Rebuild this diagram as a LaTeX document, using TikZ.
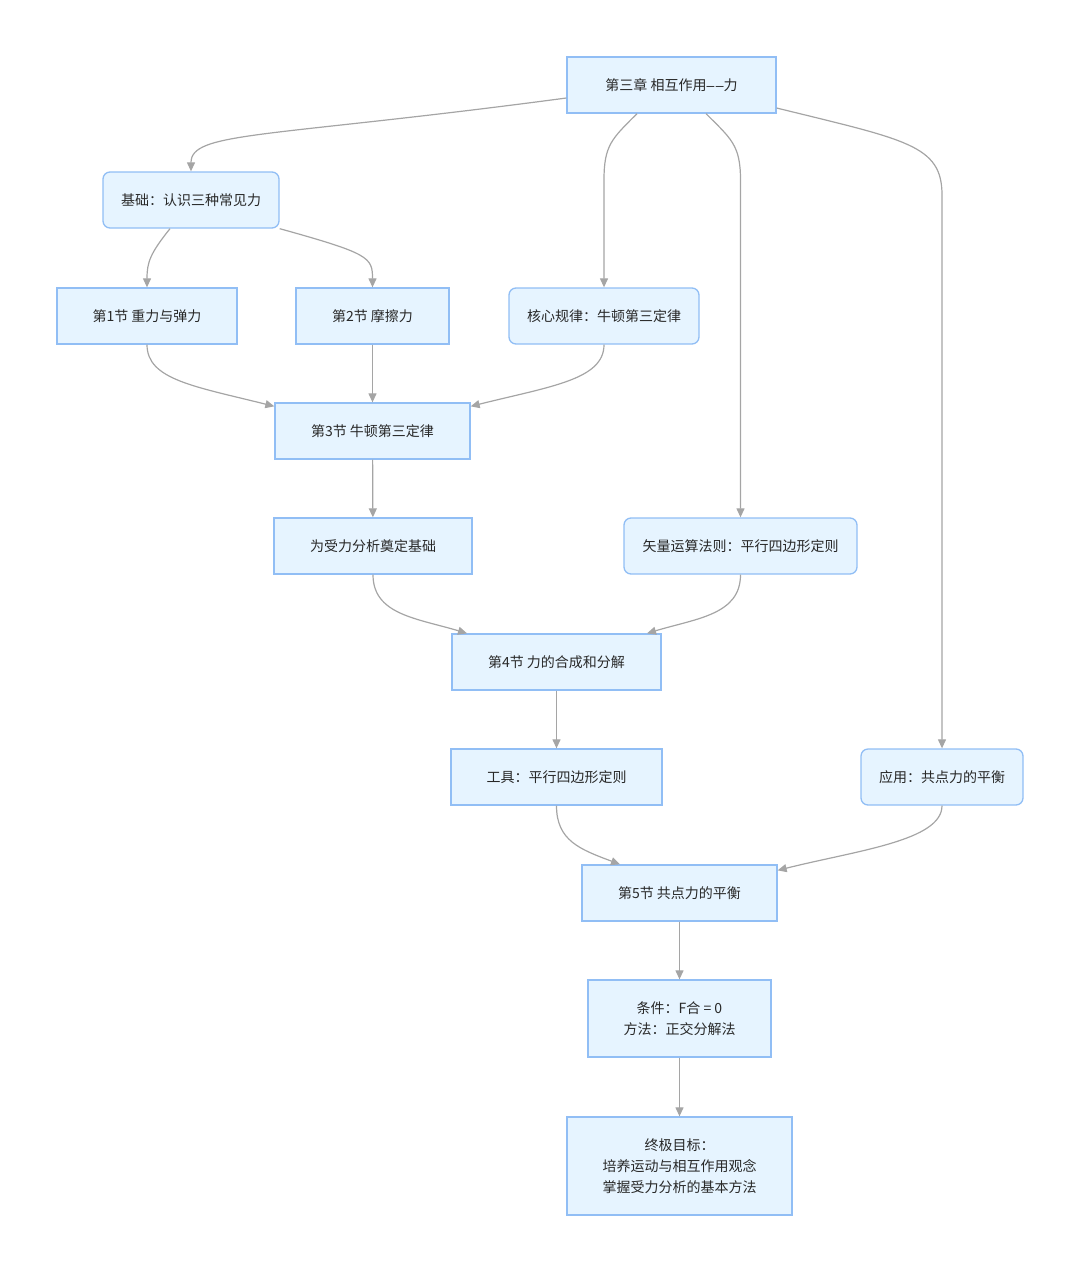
\documentclass[tikz,border=0pt]{standalone}
\usepackage{fontspec}
\setmainfont{Noto Sans CJK SC}
\newfontfamily\dashfont{Liberation Sans}
\usepackage{tikz}
\usetikzlibrary{arrows.meta}
\definecolor{boxfill}{RGB}{230,244,255}
\definecolor{boxline}{RGB}{145,190,245}
\definecolor{linkcol}{RGB}{165,165,165}
\definecolor{txtcol}{RGB}{40,40,40}
\tikzset{
  block/.style ={rectangle, draw=boxline, line width=1.3pt, fill=boxfill,
                 text=txtcol, align=center, minimum height=56pt, inner sep=0pt,
                 font=\fontsize{14}{21}\selectfont},
  soft/.style  ={block, rounded corners=7pt},
  flow/.style  ={-{Triangle[length=9pt,width=8pt]}, draw=linkcol, line width=1.2pt},
}
\begin{document}
\begin{tikzpicture}[x=1pt, y=-1pt]
    \useasboundingbox (0,0) rectangle (1080,1272);
    % chapter and first layer
    \node[block, minimum width=209pt] (ch3) at (671.5,85) {第三章 相互作用{\dashfont –\kern1.5pt–}力};
    \node[soft, minimum width=176pt] (base) at (191,200) {基础：认识三种常见力};
    \node[block, minimum width=180pt] (sec1) at (147,316) {第1节 重力与弹力};
    \node[block, minimum width=153pt] (sec2) at (372.5,316) {第2节 摩擦力};
    \node[soft, minimum width=190pt] (core) at (604,316) {核心规律：牛顿第三定律};
    \node[block, minimum width=195pt] (sec3) at (372.5,431) {第3节 牛顿第三定律};
    \node[block, minimum width=198pt] (found) at (373,546) {为受力分析奠定基础};
    \node[soft, minimum width=233pt] (vec) at (740.5,546) {矢量运算法则：平行四边形定则};
    \node[block, minimum width=209pt] (sec4) at (556.5,662) {第4节 力的合成和分解};
    \node[block, minimum width=211pt] (tool) at (556.5,777) {工具：平行四边形定则};
    \node[soft, minimum width=162pt] (app) at (942,777) {应用：共点力的平衡};
    \node[block, minimum width=195pt] (sec5) at (679.5,893) {第5节 共点力的平衡};
    \node[block, minimum width=183pt, minimum height=77pt] (cond) at (679.5,1018.5)
        {条件：F合 = 0\\方法：正交分解法};
    \node[block, minimum width=225pt, minimum height=98pt] (goal) at (679.5,1166)
        {终极目标：\\培养运动与相互作用观念\\掌握受力分析的基本方法};

    % links
    \draw[flow] ([yshift=-13pt]ch3.west) .. controls +(-300,40) and +(0,-40) .. (base.north);
    \draw[flow] ([xshift=-34.5pt]ch3.south) .. controls +(-25,25) and +(0,-35) .. (core.north |- 0,180) -- (core.north);
    \draw[flow] ([xshift=34.5pt]ch3.south) .. controls +(25,25) and +(0,-35) .. (vec.north |- 0,180) -- (vec.north);
    \draw[flow] ([yshift=-23pt]ch3.east) .. controls +(130,32) and +(0,-50) .. (app.north |- 0,195) -- (app.north);
    \draw[flow] ([xshift=-21pt]base.south) .. controls +(-20,25) and +(0,-25) .. (sec1.north);
    \draw[flow] (base.south east) .. controls +(90,25) and +(0,-30) .. (sec2.north);
    \draw[flow] (sec1.south) .. controls +(0,35) and +(-80,-20) .. ([yshift=-4pt]sec3.north west);
    \draw[flow] (sec2) -- (sec3);
    \draw[flow] (core.south) .. controls +(0,35) and +(80,-20) .. ([yshift=-4pt]sec3.north east);
    \draw[flow] (sec3) -- (found);
    \draw[flow] (found.south) .. controls +(0,40) and +(-50,-15) .. ([xshift=-89.5pt]sec4.north);
    \draw[flow] (vec.south) .. controls +(0,40) and +(50,-15) .. ([xshift=90.5pt]sec4.north);
    \draw[flow] (sec4) -- (tool);
    \draw[flow] (tool.south) .. controls +(0,35) and +(-40,-15) .. ([xshift=-59.5pt]sec5.north);
    \draw[flow] (app.south) .. controls +(0,35) and +(80,-20) .. ([yshift=-6pt]sec5.north east);
    \draw[flow] (sec5) -- (cond);
    \draw[flow] (cond) -- (goal);
  \end{tikzpicture}
\end{document}
